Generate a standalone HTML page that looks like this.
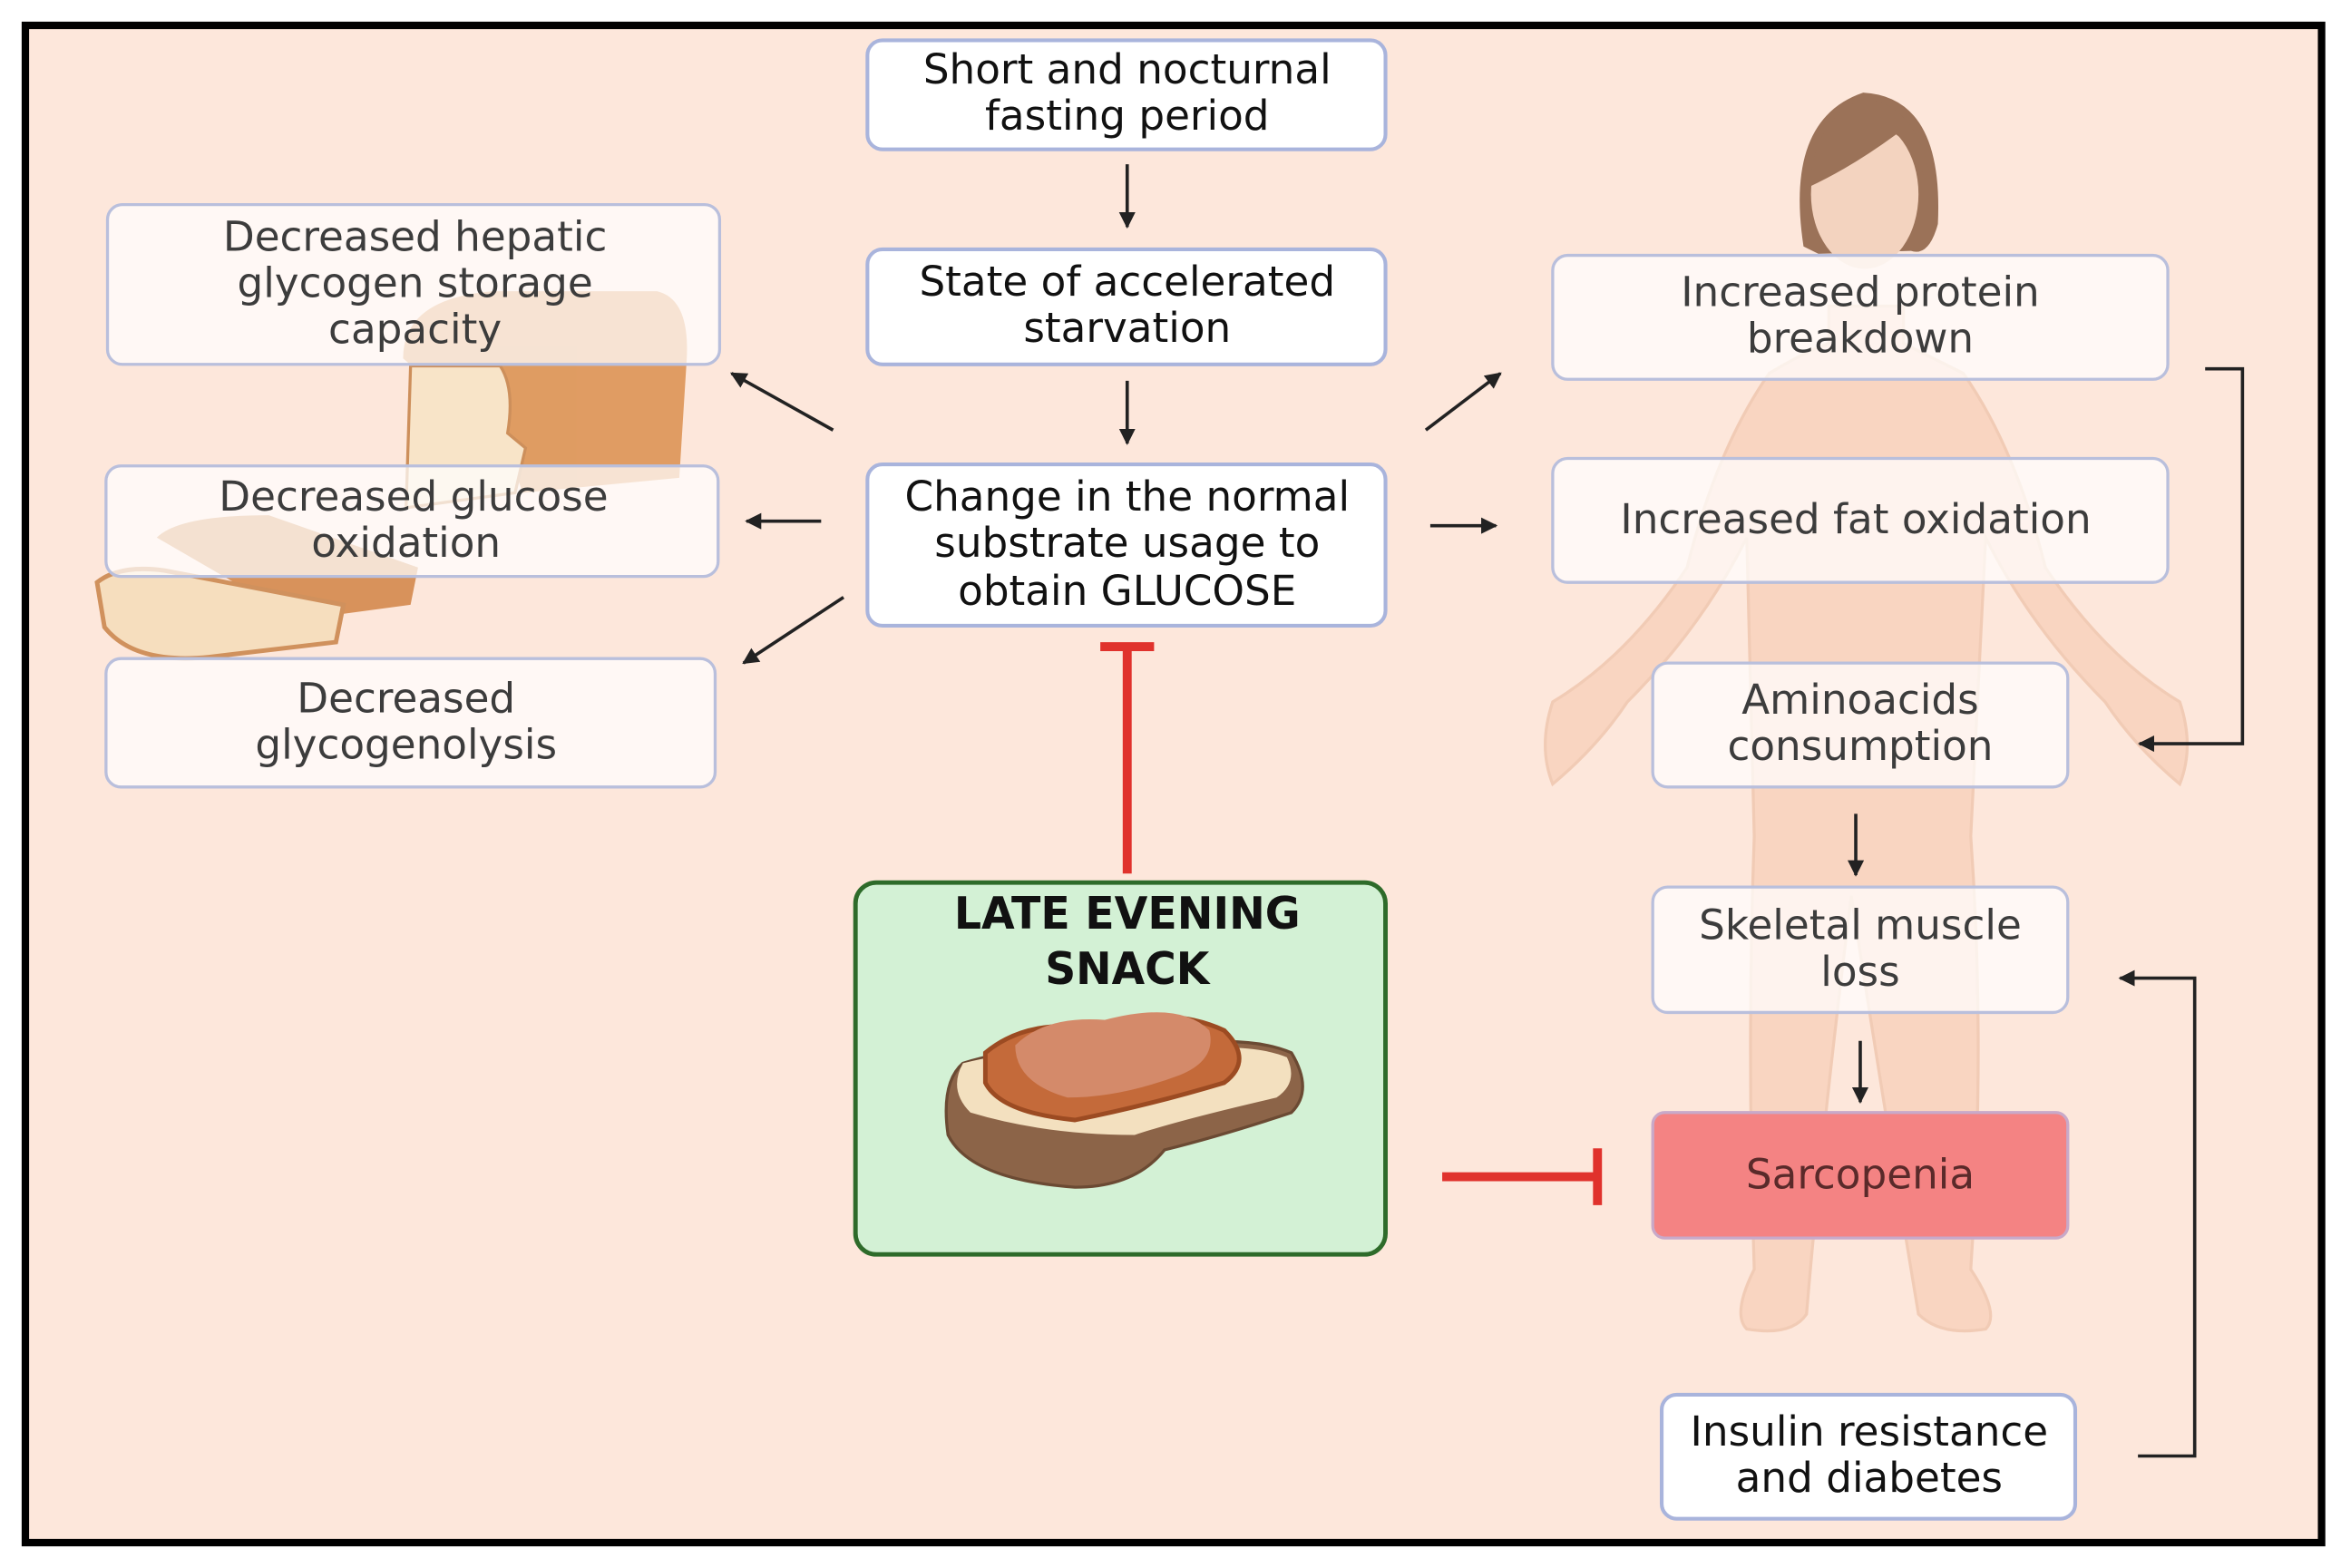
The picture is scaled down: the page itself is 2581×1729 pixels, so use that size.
<!DOCTYPE html>
<html><head><meta charset="utf-8"><style>
html,body{margin:0;padding:0;background:#fff;width:2581px;height:1729px;overflow:hidden}
svg{display:block}
text{font-family:"DejaVu Sans","Liberation Sans",sans-serif;text-anchor:middle}
</style></head><body>
<svg width="2581" height="1729" viewBox="0 0 1568 1050" preserveAspectRatio="none" xmlns="http://www.w3.org/2000/svg">
<defs>
<marker id="a" viewBox="0 0 10 10" refX="9" refY="5" markerWidth="5" markerHeight="5" orient="auto"><path d="M0,0 L10,5 L0,10 Z" fill="#222"/></marker>
</defs>
<rect x="0" y="0" width="1568" height="1050" fill="#fff"/>
<rect x="17" y="17" width="1538" height="1016" fill="#fde7db" stroke="#000" stroke-width="5"/>

<g opacity="0.55">
<path d="M1185,250 Q1150,300 1130,380 Q1090,440 1040,470 Q1030,500 1040,525 Q1070,500 1090,470 Q1140,420 1170,360 L1175,560 Q1170,700 1175,850 Q1160,880 1170,890 Q1200,895 1210,880 Q1220,760 1240,600 Q1265,760 1285,880 Q1300,895 1330,890 Q1340,880 1320,850 Q1330,700 1320,560 L1330,360 Q1360,420 1410,470 Q1430,500 1460,525 Q1470,500 1460,470 Q1410,440 1370,380 Q1350,300 1315,250 Q1285,235 1275,230 L1275,205 L1225,205 L1225,230 Q1210,235 1185,250 Z" fill="#f6c8ad" stroke="#e9b597" stroke-width="2"/>
</g>
<path d="M1208,165 Q1195,80 1248,62 Q1302,65 1298,150 Q1292,172 1280,168 L1218,170 Z" fill="#9b7258"/>
<ellipse cx="1249" cy="130" rx="36" ry="50" fill="#f3d3bf"/>
<path d="M1212,125 Q1215,80 1248,66 Q1290,70 1296,140 Q1285,100 1270,90 Q1240,112 1212,125 Z" fill="#9b7258"/>

<g opacity="0.8">
<path d="M270,240 Q270,200 330,195 L440,195 Q462,200 460,240 L455,320 L350,330 L340,300 Z" fill="#d88a45"/>
<path d="M275,245 L335,245 Q345,260 340,290 L352,300 L345,330 L272,340 Z" fill="#f8e4c4" stroke="#c27a3c" stroke-width="2"/>
<path d="M105,360 Q120,345 180,345 L280,380 L275,405 L200,415 Z" fill="#cf7d3c"/>
<path d="M65,390 Q80,378 110,382 L230,405 L225,430 L140,440 Q90,445 70,420 Z" fill="#f5dcb8" stroke="#c57c3e" stroke-width="3"/>
</g>

<g fill="#fff" fill-opacity="0.72" stroke="#b9bfdc" stroke-width="2">
<rect x="72" y="137" width="410" height="107" rx="10"/>
<rect x="71" y="312" width="410" height="74" rx="10"/>
<rect x="71" y="441" width="408" height="86" rx="10"/>
</g>
<g font-size="27.5" fill="#3c3c3c">
<text x="278" y="168">Decreased hepatic</text>
<text x="278" y="199">glycogen storage</text>
<text x="278" y="230">capacity</text>
<text x="277" y="342">Decreased glucose</text>
<text x="272" y="373">oxidation</text>
<text x="272" y="477">Decreased</text>
<text x="272" y="508">glycogenolysis</text>
</g>

<g fill="#fff" stroke="#a9b4dc" stroke-width="2.5">
<rect x="581" y="27" width="347" height="73" rx="10"/>
<rect x="581" y="167" width="347" height="77" rx="10"/>
<rect x="581" y="311" width="347" height="108" rx="10"/>
</g>
<g font-size="27.5" fill="#111">
<text x="755" y="56">Short and nocturnal</text>
<text x="755" y="87">fasting period</text>
<text x="755" y="198">State of accelerated</text>
<text x="755" y="229">starvation</text>
<text x="755" y="342">Change in the normal</text>
<text x="755" y="373">substrate usage to</text>
<text x="755" y="405">obtain GLUCOSE</text>
</g>

<g fill="#fff" fill-opacity="0.72" stroke="#b9bfdc" stroke-width="2">
<rect x="1040" y="171" width="412" height="83" rx="10"/>
<rect x="1040" y="307" width="412" height="83" rx="10"/>
<rect x="1107" y="444" width="278" height="83" rx="10"/>
<rect x="1107" y="594" width="278" height="84" rx="10"/>
</g>
<rect x="1107" y="745" width="278" height="84" rx="8" fill="#f48383" stroke="#c8a9c9" stroke-width="2"/>
<rect x="1113" y="934" width="277" height="83" rx="10" fill="#fff" stroke="#a9b4dc" stroke-width="2.5"/>
<g font-size="27.5" fill="#3c3c3c">
<text x="1246" y="205">Increased protein</text>
<text x="1246" y="236">breakdown</text>
<text x="1243" y="357">Increased fat oxidation</text>
<text x="1246" y="478">Aminoacids</text>
<text x="1246" y="509">consumption</text>
<text x="1246" y="629">Skeletal muscle</text>
<text x="1246" y="660">loss</text>
<text x="1246" y="796" fill="#5a2a2a">Sarcopenia</text>
<text x="1252" y="968" fill="#111">Insulin resistance</text>
<text x="1252" y="999" fill="#111">and diabetes</text>
</g>

<g stroke="#222" stroke-width="2.2" fill="none" marker-end="url(#a)">
<line x1="755" y1="110" x2="755" y2="152"/>
<line x1="755" y1="255" x2="755" y2="297"/>
<line x1="558" y1="288" x2="490" y2="250"/>
<line x1="550" y1="349" x2="500" y2="349"/>
<line x1="565" y1="400" x2="498" y2="444"/>
<line x1="955" y1="288" x2="1005" y2="250"/>
<line x1="958" y1="352" x2="1002" y2="352"/>
<line x1="1243" y1="545" x2="1243" y2="586"/>
<line x1="1246" y1="697" x2="1246" y2="738"/>
<polyline points="1477,247 1502,247 1502,498 1433,498"/>
<polyline points="1432,975 1470,975 1470,655 1420,655"/>
</g>

<g stroke="#e0322c" stroke-width="6" fill="none">
<line x1="755" y1="432" x2="755" y2="585"/>
<line x1="737" y1="433" x2="773" y2="433"/>
<line x1="966" y1="788" x2="1070" y2="788"/>
<line x1="1070" y1="769" x2="1070" y2="807"/>
</g>

<rect x="573" y="591" width="355" height="249" rx="14" fill="#d3f1d5" stroke="#2e6b2a" stroke-width="3"/>
<text x="755" y="622" font-size="30" font-weight="bold" fill="#111" textLength="232" lengthAdjust="spacingAndGlyphs">LATE EVENING</text>
<text x="755" y="659" font-size="30" font-weight="bold" fill="#111" textLength="110" lengthAdjust="spacingAndGlyphs">SNACK</text>
<path d="M645,712 Q700,695 760,705 Q830,690 865,705 Q880,730 865,745 Q820,760 780,770 Q760,795 720,795 Q650,790 635,760 Q630,725 645,712 Z" fill="#8c6448" stroke="#6b4a33" stroke-width="2"/>
<path d="M645,712 Q700,698 760,708 Q830,695 862,708 Q870,725 855,735 Q790,750 760,760 Q700,760 650,745 Q635,730 645,712 Z" fill="#f3e0bf"/>
<path d="M660,705 Q690,680 740,690 Q780,672 820,690 Q840,710 820,725 Q770,740 720,750 Q670,745 660,725 Z" fill="#c46a3a" stroke="#9c4b22" stroke-width="3"/>
<path d="M680,700 Q700,680 740,683 Q790,670 810,690 Q815,710 790,720 Q750,735 715,735 Q680,725 680,700 Z" fill="#d48a6a"/>
</svg>
</body></html>
